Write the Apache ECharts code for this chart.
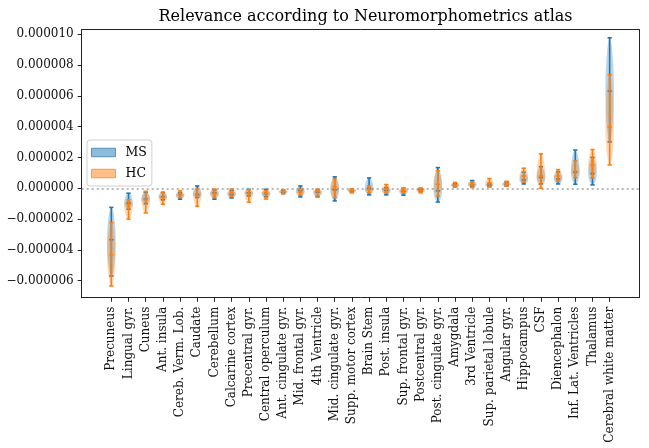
<!DOCTYPE html>
<html><head><meta charset="utf-8">
<script src="https://cdn.jsdelivr.net/npm/echarts@6/dist/echarts.min.js"></script>
<style>html,body{margin:0;padding:0;background:#fff}#c{width:649px;height:448px}</style>
</head><body><div id="c"></div>
<script>
// values in units of 1e-6
const categories = ['Precuneus','Lingual gyr.','Cuneus','Ant. insula','Cereb. Verm. Lob.','Caudate','Cerebellum','Calcarine cortex','Precentral gyr.','Central operculum','Ant. cingulate gyr.','Mid. frontal gyr.','4th Ventricle','Mid. cingulate gyr.','Supp. motor cortex','Brain Stem','Post. insula','Sup. frontal gyr.','Postcentral gyr.','Post. cingulate gyr.','Amygdala','3rd Ventricle','Sup. parietal lobule','Angular gyr.','Hippocampus','CSF','Diencephalon','Inf. Lat. Ventricles','Thalamus','Cerebral white matter'];
const msMin = [-5.69,-1.36,-1.0,-0.75,-0.71,-0.6,-0.71,-0.63,-0.5,-0.55,-0.35,-0.56,-0.56,-0.82,-0.25,-0.43,-0.43,-0.45,-0.2,-0.89,0.1,0.1,0.1,0.15,0.28,0.28,0.28,0.26,0.22,3.01];
const msMed = [-3.34,-0.95,-0.7,-0.55,-0.45,-0.4,-0.3,-0.4,-0.3,-0.35,-0.25,-0.15,-0.25,-0.1,-0.15,0.0,-0.15,-0.2,-0.1,-0.17,0.2,0.25,0.2,0.25,0.54,0.7,0.6,1.04,0.95,6.30];
const msMax = [-1.24,-0.32,-0.26,-0.26,-0.3,0.15,-0.1,-0.15,-0.07,-0.07,-0.1,0.15,-0.1,0.74,-0.05,0.67,0.05,0.0,0.0,1.34,0.3,0.5,0.3,0.4,1.04,1.40,1.06,2.48,2.0,9.76];
const hcMin = [-6.34,-2.0,-1.6,-1.04,-0.6,-1.17,-0.6,-0.55,-0.9,-0.7,-0.35,-0.45,-0.5,-0.6,-0.3,-0.3,-0.3,-0.3,-0.3,-0.5,0.08,0.05,0.1,0.15,0.4,0.0,0.45,0.69,0.68,1.52];
const hcMed = [-4.31,-1.05,-0.75,-0.6,-0.45,-0.45,-0.35,-0.3,-0.35,-0.3,-0.2,-0.25,-0.2,0.1,-0.15,-0.1,-0.05,-0.15,-0.15,0.26,0.2,0.2,0.35,0.25,0.8,0.8,0.8,1.1,1.5,3.98];
const hcMax = [-2.23,-0.75,-0.2,-0.3,-0.17,-0.05,-0.05,-0.05,-0.1,-0.15,-0.1,-0.05,-0.05,0.6,-0.05,0.15,0.24,0.0,-0.02,1.13,0.38,0.4,0.63,0.45,1.30,2.23,1.21,1.77,2.51,7.36];
const yTicks = [-6,-4,-2,0,2,4,6,8,10];

const FONT = 'DejaVu Serif';
const BLUE = '#1f77b4', ORANGE = '#ff7f0e';

function rows(mn, md, mx){ return categories.map((c,i)=>[i, mn[i], md[i], mx[i]]); }

function makeRender(color){
  return function(params, api){
    const i = api.value(0), lo = api.value(1), md = api.value(2), hi = api.value(3);
    const hw = api.size([0.25, 0])[0];
    const cw = api.size([0.125, 0])[0];
    const cx = api.coord([i, md])[0];
    const N = 40, L = [], R = [];
    for (let k = 0; k <= N; k++){
      const v = lo + (hi - lo) * k / N;
      const t = v < md ? (v - md) / ((md - lo) || 1) : (v - md) / ((hi - md) || 1);
      const w = hw * Math.pow(Math.max(0, 1 - 0.92 * t * t), 0.7);
      const y = api.coord([i, v])[1];
      R.push([cx + w, y]); L.push([cx - w, y]);
    }
    const poly = R.concat(L.reverse());
    const yLo = api.coord([i, lo])[1], yMd = api.coord([i, md])[1], yHi = api.coord([i, hi])[1];
    const ls = {stroke: color, lineWidth: 1.6};
    return {type: 'group', children: [
      {type: 'polygon', shape: {points: poly}, style: {fill: color, opacity: 0.3}},
      {type: 'line', shape: {x1: cx, y1: yLo, x2: cx, y2: yHi}, style: ls},
      {type: 'line', shape: {x1: cx - cw, y1: yLo, x2: cx + cw, y2: yLo}, style: ls},
      {type: 'line', shape: {x1: cx - cw, y1: yHi, x2: cx + cw, y2: yHi}, style: ls},
      {type: 'line', shape: {x1: cx - cw, y1: yMd, x2: cx + cw, y2: yMd}, style: ls}
    ]};
  };
}

const XMIN = -1.725, XMAX = 30.725, YMIN = -7.1, YMAX = 10.3;
const idx = categories.map((c,i)=>i);
const chart = echarts.init(document.getElementById('c'), null, {renderer: 'canvas'});
chart.setOption({
  animation: false,
  backgroundColor: '#fff',
  textStyle: {fontFamily: FONT},
  title: {text: 'Relevance according to Neuromorphometrics atlas', left: 360.5, textAlign: 'center', top: 4,
    textStyle: {fontFamily: FONT, fontWeight: 'normal', fontSize: 16, color: '#000'}},
  legend: {
    left: 87, top: 140, orient: 'vertical', itemWidth: 24, itemHeight: 8.5, itemGap: 8,
    padding: [6, 5, 6, 4], borderColor: '#d0d0d0', borderWidth: 1, borderRadius: 3,
    backgroundColor: 'rgba(255,255,255,0.8)', icon: 'rect',
    textStyle: {fontFamily: FONT, fontSize: 12.5, color: '#000', padding: [0,0,0,5]},
    data: [
      {name: 'MS', itemStyle: {color: 'rgba(31,119,180,0.5)', borderColor: 'rgba(31,119,180,0.7)', borderWidth: 1}},
      {name: 'HC', itemStyle: {color: 'rgba(255,127,14,0.5)', borderColor: 'rgba(255,127,14,0.7)', borderWidth: 1}}
    ]
  },
  grid: {left: 81.7, right: 9.7, top: 29.5, bottom: 150.3, containLabel: false},
  xAxis: [{
    type: 'value', min: XMIN, max: XMAX, position: 'bottom',
    axisLine: {show: true, onZero: false, lineStyle: {color: '#222', width: 1}},
    axisTick: {show: true, customValues: idx, length: 4, lineStyle: {color: '#222'}},
    axisLabel: {show: true, customValues: idx, rotate: 90, margin: 9, fontFamily: FONT, fontSize: 12, color: '#111',
      formatter: v => categories[Math.round(v)] || ''},
    splitLine: {show: false}
  }, {
    type: 'value', min: XMIN, max: XMAX, position: 'top',
    axisLine: {show: true, onZero: false, lineStyle: {color: '#222', width: 1}},
    axisTick: {show: false}, axisLabel: {show: false}, splitLine: {show: false}
  }],
  yAxis: [{
    type: 'value', min: YMIN, max: YMAX, position: 'left',
    axisLine: {show: true, onZero: false, lineStyle: {color: '#222', width: 1}},
    axisTick: {show: true, customValues: yTicks, length: 4, lineStyle: {color: '#222'}},
    axisLabel: {show: true, customValues: yTicks, margin: 8, fontFamily: FONT, fontSize: 12, color: '#111',
      formatter: v => (v * 1e-6).toFixed(6).replace('-', '\u2212')},
    splitLine: {show: false}
  }, {
    type: 'value', min: YMIN, max: YMAX, position: 'right',
    axisLine: {show: true, onZero: false, lineStyle: {color: '#222', width: 1}},
    axisTick: {show: false}, axisLabel: {show: false}, splitLine: {show: false}
  }],
  series: [{
    name: 'MS', type: 'custom', xAxisIndex: 0, yAxisIndex: 0,
    itemStyle: {color: 'rgba(31,119,180,0.5)'},
    renderItem: makeRender(BLUE), data: rows(msMin, msMed, msMax),
    markLine: {silent: true, symbol: ['none','none'], label: {show: false}, z: 1,
      lineStyle: {color: '#a0a0a0', type: [2, 3], width: 1.5}, data: [{yAxis: 0}]}
  }, {
    name: 'HC', type: 'custom', xAxisIndex: 0, yAxisIndex: 0,
    itemStyle: {color: 'rgba(255,127,14,0.5)'},
    renderItem: makeRender(ORANGE), data: rows(hcMin, hcMed, hcMax)
  }]
});
</script></body></html>
